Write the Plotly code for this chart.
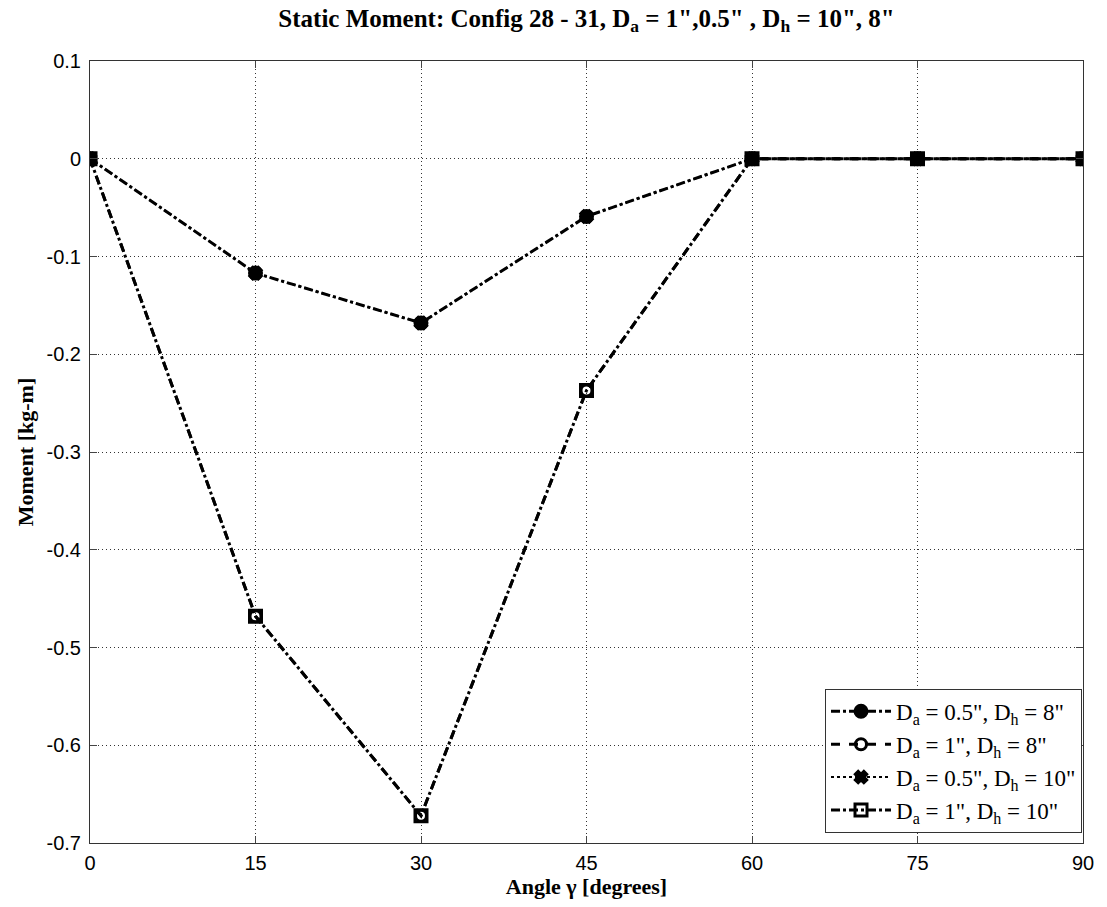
import plotly.graph_objects as go

angles = [0, 15, 30, 45, 60, 75, 90]
m_a05_h8 = [0, -0.117, -0.168, -0.059, 0, 0, 0]
m_a1_h8 = [0, -0.468, -0.672, -0.237, 0, 0, 0]
m_a05_h10 = [0, -0.117, -0.168, -0.059, 0, 0, 0]
m_a1_h10 = [0, -0.468, -0.672, -0.237, 0, 0, 0]

names = ['D<sub>a</sub> = 0.5", D<sub>h</sub> = 8"',
         'D<sub>a</sub> = 1", D<sub>h</sub> = 8"',
         'D<sub>a</sub> = 0.5", D<sub>h</sub> = 10"',
         'D<sub>a</sub> = 1", D<sub>h</sub> = 10"']

xticks = [0, 15, 30, 45, 60, 75, 90]
yticks = [0.1, 0, -0.1, -0.2, -0.3, -0.4, -0.5, -0.6, -0.7]

fig = go.Figure()
styles = [
    (m_a05_h8, "dashdot", "circle", 3, 12),
    (m_a1_h8, "dash", "circle-open", 3, 11),
    (m_a05_h10, "dot", "x", 2, 10),
    (m_a1_h10, "dashdot", "square-open", 3, 12),
]
for (vals, dash, sym, w, ms), nm in zip(styles, names):
    fig.add_trace(go.Scatter(
        x=angles, y=vals, mode="lines+markers", name=nm,
        line=dict(color="black", width=w, dash=dash),
        marker=dict(symbol=sym, size=ms, color="black",
                    line=dict(color="black", width=3)),
    ))

ytext = [("%g" % v) for v in yticks]
fig.update_layout(
    width=1107, height=907,
    margin=dict(l=90, r=24, t=61, b=64),
    paper_bgcolor="white", plot_bgcolor="white",
    title=dict(text='<b>Static Moment: Config 28 - 31, D<sub>a</sub> = 1",0.5" , D<sub>h</sub> = 10", 8"</b>',
               x=0.5, xref="paper", y=0.99, yanchor="top",
               font=dict(family="Liberation Serif", size=25, color="black")),
    font=dict(family="Liberation Sans", size=20, color="black"),
    xaxis=dict(range=[0, 90], tickvals=xticks, ticks="inside", ticklen=7,
               showline=True, linecolor="#333", linewidth=1, mirror="ticks",
               showgrid=True, gridcolor="#333", griddash="1px,3px", gridwidth=1,
               zeroline=False, ticklabelstandoff=2,
               title=dict(text="<b>Angle γ [degrees]</b>", standoff=2,
                          font=dict(family="Liberation Serif", size=22))),
    yaxis=dict(range=[-0.7, 0.1], tickvals=yticks, ticktext=ytext,
               ticks="inside", ticklen=7,
               showline=True, linecolor="#333", linewidth=1, mirror="ticks",
               showgrid=True, gridcolor="#333", griddash="1px,3px", gridwidth=1,
               zeroline=False, ticklabelstandoff=4,
               title=dict(text="<b>Moment [kg-m]</b>", standoff=6,
                          font=dict(family="Liberation Serif", size=22))),
    legend=dict(x=0.999, y=0.013, xanchor="right", yanchor="bottom",
                bgcolor="white", bordercolor="#333", borderwidth=1,
                font=dict(family="Liberation Serif", size=23),
                tracegroupgap=2, itemwidth=60),
    showlegend=True,
)

fig.write_html("out.html")
